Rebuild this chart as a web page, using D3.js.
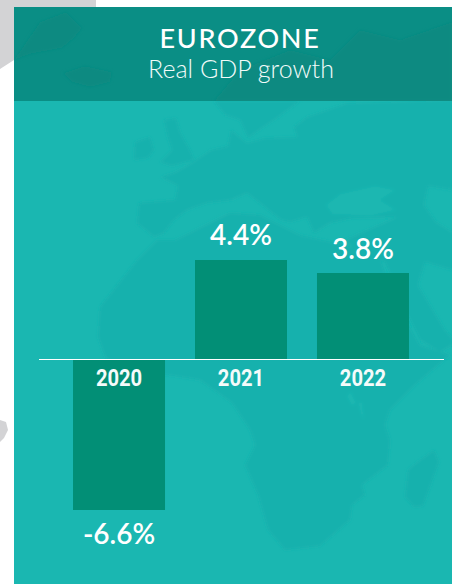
<!DOCTYPE html>
<html>
<head>
<meta charset="utf-8">
<script src="https://cdn.jsdelivr.net/npm/d3@7"></script>
<style>
  html, body { margin: 0; padding: 0; background: #fff; }
  svg { display: block; }
  .value { font-family: Lato, sans-serif; font-weight: 600; font-size: 28px; fill: #fff; text-anchor: middle; }
  .tick text { font-family: Roboto, sans-serif; font-weight: 700; font-size: 24px; fill: #f4fbfa; }
</style>
</head>
<body>
<svg id="chart" width="452" height="584"></svg>
<script>
const years = ["2020", "2021", "2022"];
const growth = [-6.6, 4.4, 3.8];
const growthLabels = ["-6.6%", "4.4%", "3.8%"];
const title = "EUROZONE";
const subtitle = "Real GDP growth";

// backdrop map, only decoration behind the bars
const greyLand = [
  "M0,0H96V7H14V60L0,69Z",
  "M0,420L6,422L8,430L4,438L0,442Z"
];
const panelLand = [
  // europe + asia
  "M161,177L176,172L190,164L211,150L228,146L231,130L247,143L265,138L297,137L294,127L307,117L347,103L452,100V190L428,186L424,205L436,222L452,232V270L425,262L418,285L445,330L452,338V345L440,352L420,340L400,300L385,262L355,250L345,240L397,217L352,218L330,223L314,233L307,217L290,222L281,220L247,193L231,200L207,203L187,210L174,220L164,233L154,237L137,223L139,203L175,200L178,186Z",
  // africa
  "M137,260L157,240L175,240L230,213L260,215L300,235L345,245L380,258L395,300L420,345L450,355L415,385L390,410L385,425L390,440L388,465L362,485L365,495L352,505L350,520L320,546L285,550L268,530L258,495L245,465L255,445L250,430L232,403L200,380L167,375L130,378L105,357L98,337L100,307Z",
  // madagascar
  "M434,450L439,462L423,506L414,507L405,497L408,470L412,466Z",
  // britain
  "M164,120L176,118L180,132L190,150L194,160L172,166L160,162L172,150L168,138Z",
  // ireland
  "M135,142L150,137L154,150L148,158L134,160Z",
  // scandinavia, below the header
  "M214,101H300L277,118L262,128L248,138L240,120L225,115Z"
];
const panelWater = [
  "M326,205L340,194L375,186L395,190L380,200L396,210L370,216L332,214Z",
  "M347,396L352,406L356,403L351,392Z",
  "M358,402L361,414L364,420L362,403Z",
  "M346,372L356,370L358,376L348,380Z"
];
const headerLand = [
  // greenland
  "M14,60L40,22L66,12L82,28L74,38L62,48L30,54Z",
  // iceland
  "M63,73L85,66L112,72L110,82L90,87L72,82Z",
  // scandinavia and russia
  "M214,101L240,70L290,50L330,60L360,30L400,40L452,22V101Z",
  "M340,101L375,70L452,60V101Z"
];

const width = 452;
const height = 584;
const panel = {x: 14, y: 7, headerBottom: 101};

const svg = d3.select("#chart");

const defs = svg.append("defs");
defs.append("clipPath").attr("id", "panelClip")
  .append("rect")
  .attr("x", panel.x).attr("y", panel.headerBottom)
  .attr("width", width - panel.x).attr("height", height - panel.headerBottom);
defs.append("clipPath").attr("id", "headerClip")
  .append("rect")
  .attr("x", panel.x).attr("y", panel.y)
  .attr("width", width - panel.x).attr("height", panel.headerBottom - panel.y);
defs.append("filter").attr("id", "soft")
  .append("feGaussianBlur").attr("stdDeviation", 1.4);

svg.selectAll(".grey").data(greyLand).enter().append("path")
  .attr("class", "grey").attr("d", d => d).style("fill", "#d3d3d5");

svg.append("rect")
  .attr("x", panel.x).attr("y", panel.y)
  .attr("width", width - panel.x).attr("height", height - panel.y)
  .style("fill", "#1ab7b1");

const backdrop = svg.append("g").attr("clip-path", "url(#panelClip)")
  .append("g").attr("filter", "url(#soft)");
backdrop.selectAll(".land").data(panelLand).enter().append("path")
  .attr("class", "land").attr("d", d => d).style("fill", "#16b1ad");
backdrop.selectAll(".water").data(panelWater).enter().append("path")
  .attr("class", "water").attr("d", d => d).style("fill", "#1ab7b1");

svg.append("rect")
  .attr("x", panel.x).attr("y", panel.y)
  .attr("width", width - panel.x).attr("height", panel.headerBottom - panel.y)
  .style("fill", "#0a8e85");

svg.append("g").attr("clip-path", "url(#headerClip)")
  .append("g").attr("filter", "url(#soft)")
  .selectAll("path").data(headerLand).enter().append("path")
  .attr("d", d => d).style("fill", "#088a81");

svg.append("text")
  .attr("x", 240).attr("y", 48)
  .attr("text-anchor", "middle")
  .style("font-family", "Lato, sans-serif").style("font-weight", 500)
  .style("font-size", "27px").style("letter-spacing", "1.7px").style("fill", "#fff")
  .text(title);

svg.append("text")
  .attr("x", 241).attr("y", 78)
  .attr("text-anchor", "middle")
  .style("font-family", "Lato, sans-serif").style("font-weight", 300)
  .style("font-size", "25px").style("fill", "#f2fbfa")
  .text(subtitle);

const rows = years.map((year, i) => ({year, value: growth[i], label: growthLabels[i]}));

const x = d3.scaleBand()
  .domain(years)
  .range([38.5, 443.5])
  .paddingInner(30 / 122)
  .paddingOuter(0.283);

const y = d3.scaleLinear()
  .domain([-6.6, 4.4])
  .range([510, 260]);

const barTop = d => Math.floor(y(Math.max(d.value, 0)));
const barBottom = d => Math.ceil(y(Math.min(d.value, 0)));

svg.selectAll(".bar")
  .data(rows)
  .enter().append("rect")
  .attr("class", "bar")
  .attr("x", d => x(d.year))
  .attr("y", barTop)
  .attr("width", x.bandwidth())
  .attr("height", d => barBottom(d) - barTop(d))
  .style("fill", "#028f76");

const axis = svg.append("g")
  .attr("transform", `translate(0, ${y(0) - 1})`)
  .call(d3.axisBottom(x).tickSize(0).tickPadding(10));
axis.select(".domain").style("stroke", "#fff").style("stroke-width", 1);

// year labels in the original are narrower than plain Roboto
axis.selectAll(".tick text")
  .attr("lengthAdjust", "spacingAndGlyphs")
  .attr("textLength", function () { return this.getComputedTextLength() * 0.84; });

svg.selectAll(".value")
  .data(rows)
  .enter().append("text")
  .attr("class", "value")
  .attr("x", d => x(d.year) + x.bandwidth() / 2)
  .attr("y", d => d.value < 0 ? y(d.value) + 34 : y(d.value) - 15)
  .text(d => d.label);
</script>
</body>
</html>
